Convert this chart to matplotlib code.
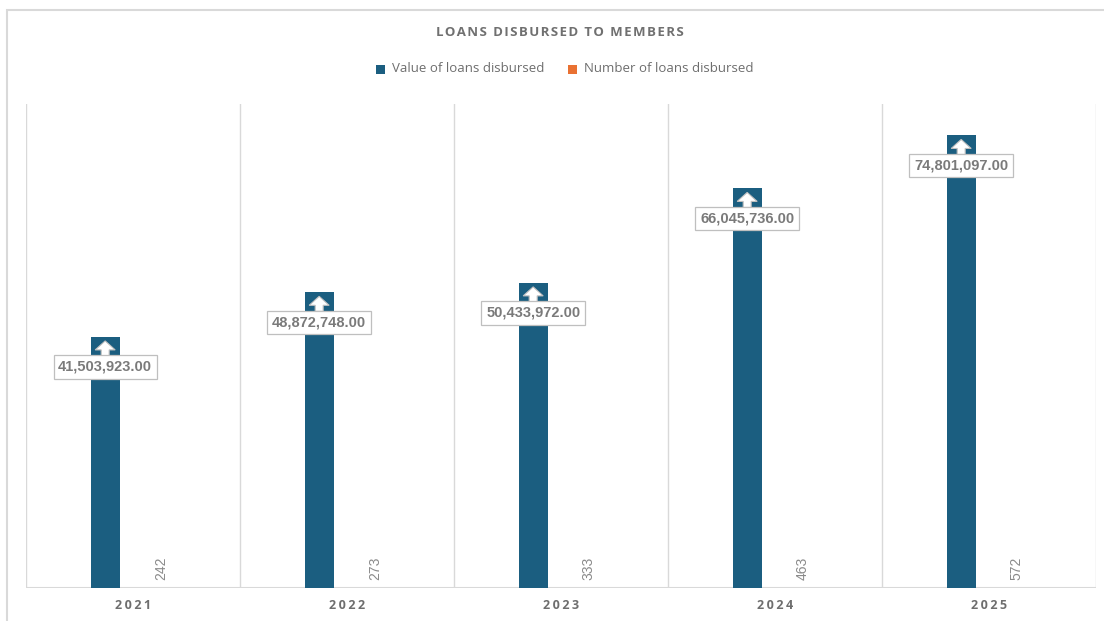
import matplotlib
matplotlib.use("Agg")
import matplotlib.pyplot as plt
from matplotlib.patches import Polygon, Rectangle
from matplotlib.transforms import ScaledTranslation, Affine2D

years = ["2021", "2022", "2023", "2024", "2025"]
loan_values = [41503923.00, 48872748.00, 50433972.00, 66045736.00, 74801097.00]
loan_counts = [242, 273, 333, 463, 572]

title = "LOANS DISBURSED TO MEMBERS"
series_names = ["Value of loans disbursed", "Number of loans disbursed"]

BLUE = "#1b5e80"
ORANGE = "#e97132"
GRID = "#d9d9d9"
TXT = "#7a7a7a"

W, H = 1104, 621
fig = plt.figure(figsize=(W / 100, H / 100), dpi=100)
fig.patch.set_facecolor("white")

# chart frame (top and left edges visible)
fig.add_artist(Rectangle((7 / W, -0.1), 1.2, (H - 10) / H + 0.1,
                         transform=fig.transFigure, fill=False,
                         edgecolor="#d9d9d9", linewidth=1.5))

left, right, bottom_px, top_px = 26, 1096, 588, 104
ax = fig.add_axes([left / W, (H - bottom_px) / H, (right - left) / W,
                   (bottom_px - top_px) / H])
ax.set_xlim(-0.5, len(years) - 0.5)
ax.set_ylim(0, 80_000_000)
for s in ax.spines.values():
    s.set_visible(False)
ax.set_yticks([])
ax.set_xticks([])

# category separators
for i in range(len(years) + 1):
    ax.axvline(i - 0.5, color=GRID, linewidth=1.0, zorder=0)
ax.axhline(0, color=GRID, linewidth=1.5, zorder=1)

bw = 29 / 214
off = 0.13
xs = list(range(len(years)))
ax.bar([x - off for x in xs], loan_values, width=bw, color=BLUE, zorder=2)
ax.bar([x + off for x in xs], loan_counts, width=bw, color=ORANGE, zorder=2)

# value callouts: white box with an arrow pointing to the bar top
arrow = [(0, -4), (10, -13), (4, -13), (4, -19), (-4, -19), (-4, -13), (-10, -13)]
for x, v in zip(xs, loan_values):
    xc = x - off
    tr = Affine2D() + ScaledTranslation(xc, v, ax.transData)
    ax.add_patch(Polygon(arrow, closed=True, transform=tr, facecolor="white",
                         edgecolor="#bfbfbf", linewidth=0.8, zorder=4,
                         clip_on=False))
    ax.text(0, -30, f"{v:,.2f}", transform=tr, ha="center", va="center",
            fontsize=10.5, fontweight="bold", color=TXT,
            family="Liberation Sans", zorder=5,
            bbox=dict(boxstyle="square,pad=0.32", facecolor="white",
                      edgecolor="#bfbfbf", linewidth=0.9))

# count labels, rotated above the (tiny) count bars
for x, n in zip(xs, loan_counts):
    tr = Affine2D().translate(0, 8) + ScaledTranslation(x + off, n, ax.transData)
    ax.text(0, 0, f"{n}", transform=tr, ha="center", va="bottom",
            rotation=90, fontsize=10, color="#8a8a8a",
            family="Liberation Sans")


def spaced(s, sp="\u2009"):
    return sp.join(s)


# category labels
xlab_tr = ax.get_xaxis_transform() + Affine2D().translate(0, -11)
for x, y in zip(xs, years):
    ax.text(x, 0, spaced(y), transform=xlab_tr, ha="center", va="top",
            fontsize=9, fontweight="bold", color="#6e6e6e",
            family="Open Sans")

# title
fig.text(560 / W, 1 - 32 / H, spaced(title, "\u200a"), ha="center",
         va="center", fontsize=9.5, fontweight="bold", color="#707070",
         family="Open Sans")

# legend
ly = 1 - 69 / H
for sx, col, name in [(380, BLUE, series_names[0]), (572, ORANGE, series_names[1])]:
    fig.add_artist(Rectangle(((sx - 4) / W, ly - 4.5 / H), 8.5 / W, 8.5 / H,
                             transform=fig.transFigure, facecolor=col,
                             edgecolor="none"))
    fig.text((sx + 12) / W, ly, name, ha="left", va="center",
             fontsize=9.5, color="#6e6e6e", family="Open Sans")

fig.savefig("out.png", dpi=100, facecolor="white")
